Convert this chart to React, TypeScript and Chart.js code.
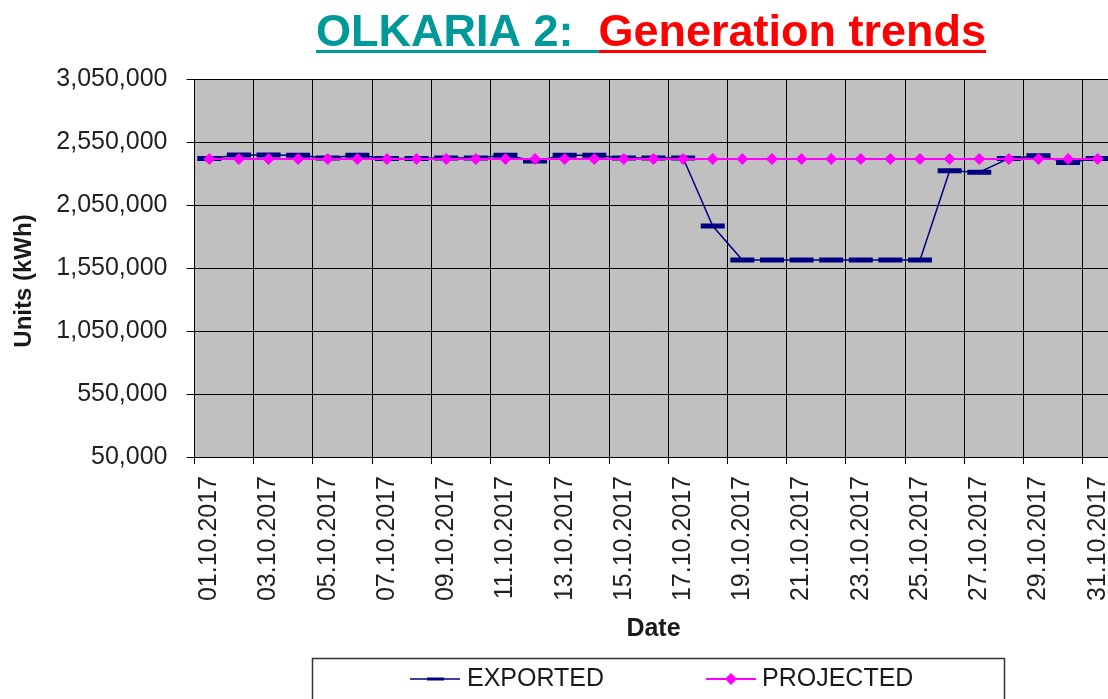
import React, { useEffect, useRef } from 'react';
import { Chart, registerables } from 'chart.js';

Chart.register(...registerables);

const FAMILY = '"Liberation Sans", Arial, Helvetica, sans-serif';

const dates = [
  '01.10.2017', '02.10.2017', '03.10.2017', '04.10.2017', '05.10.2017', '06.10.2017',
  '07.10.2017', '08.10.2017', '09.10.2017', '10.10.2017', '11.10.2017', '12.10.2017',
  '13.10.2017', '14.10.2017', '15.10.2017', '16.10.2017', '17.10.2017', '18.10.2017',
  '19.10.2017', '20.10.2017', '21.10.2017', '22.10.2017', '23.10.2017', '24.10.2017',
  '25.10.2017', '26.10.2017', '27.10.2017', '28.10.2017', '29.10.2017', '30.10.2017',
  '31.10.2017',
];

const exported = [
  2420000, 2447000, 2447000, 2444000, 2423000, 2444000, 2420000, 2420000, 2423000, 2423000,
  2444000, 2400000, 2444000, 2444000, 2423000, 2423000, 2423000, 1883000, 1613000, 1613000,
  1613000, 1613000, 1613000, 1613000, 1613000, 2321000, 2310000, 2420000, 2441000, 2387000,
  2420000,
];

const projected = [
  2415000, 2415000, 2415000, 2415000, 2415000, 2415000, 2415000, 2415000, 2415000, 2415000,
  2415000, 2415000, 2415000, 2415000, 2415000, 2415000, 2415000, 2415000, 2415000, 2415000,
  2415000, 2415000, 2415000, 2415000, 2415000, 2415000, 2415000, 2415000, 2415000, 2415000,
  2415000,
];

const yMin = 50000;
const yMax = 3050000;
const yStep = 500000;

const titleParts = ['OLKARIA 2:  ', 'Generation trends'];
const titleColors = ['#009999', '#FF0000'];
const yTitle = 'Units (kWh)';
const xTitle = 'Date';

const EXPORTED_COLOR = '#000080';
const PROJECTED_COLOR = '#FF00FF';

const decorPlugin = {
  id: 'decor',
  beforeDraw(chart: any) {
    const { ctx, chartArea: a } = chart;
    ctx.save();
    ctx.fillStyle = '#C0C0C0';
    ctx.fillRect(a.left, a.top, a.right - a.left, a.bottom - a.top);
    ctx.restore();
  },
  afterDraw(chart: any) {
    const { ctx, chartArea: a } = chart;
    // Title (two colours, underlined)
    ctx.save();
    ctx.font = `bold 45px ${FAMILY}`;
    ctx.textAlign = 'left';
    ctx.textBaseline = 'alphabetic';
    const w1 = ctx.measureText(titleParts[0]).width;
    const w2 = ctx.measureText(titleParts[1]).width;
    const cx = 651;
    let x = cx - (w1 + w2) / 2;
    const baseY = 46;
    ctx.fillStyle = titleColors[0];
    ctx.fillText(titleParts[0], x, baseY);
    ctx.fillRect(x, baseY + 4, w1, 3);
    x += w1;
    ctx.fillStyle = titleColors[1];
    ctx.fillText(titleParts[1], x, baseY);
    ctx.fillRect(x, baseY + 4, w2, 3);
    ctx.restore();

    // Y axis title
    ctx.save();
    ctx.font = `bold 24px ${FAMILY}`;
    ctx.fillStyle = '#1a1a1a';
    ctx.textAlign = 'center';
    ctx.textBaseline = 'middle';
    ctx.translate(24, (a.top + a.bottom) / 2 + 13);
    ctx.rotate(-Math.PI / 2);
    ctx.fillText(yTitle, 0, 0);
    ctx.restore();

    // Legend box
    const ds = chart.data.datasets;
    ctx.save();
    ctx.strokeStyle = '#333';
    ctx.lineWidth = 1.5;
    ctx.strokeRect(312.5, 658.5, 692, 70);
    const ly = 679;
    ctx.strokeStyle = EXPORTED_COLOR;
    ctx.lineWidth = 1.5;
    ctx.beginPath();
    ctx.moveTo(410, ly);
    ctx.lineTo(460, ly);
    ctx.stroke();
    ctx.lineWidth = 3;
    ctx.beginPath();
    ctx.moveTo(427, ly);
    ctx.lineTo(444, ly);
    ctx.stroke();
    ctx.strokeStyle = PROJECTED_COLOR;
    ctx.lineWidth = 2;
    ctx.beginPath();
    ctx.moveTo(706, ly);
    ctx.lineTo(756, ly);
    ctx.stroke();
    ctx.fillStyle = PROJECTED_COLOR;
    ctx.beginPath();
    ctx.moveTo(731, ly - 6);
    ctx.lineTo(737, ly);
    ctx.lineTo(731, ly + 6);
    ctx.lineTo(725, ly);
    ctx.closePath();
    ctx.fill();
    ctx.font = `25px ${FAMILY}`;
    ctx.fillStyle = '#1a1a1a';
    ctx.textAlign = 'left';
    ctx.textBaseline = 'middle';
    ctx.fillText(ds[0].label, 467, ly);
    ctx.fillText(ds[1].label, 762, ly);
    ctx.restore();
  },
};

export default function App() {
  const canvasRef = useRef<HTMLCanvasElement | null>(null);

  useEffect(() => {
    const canvas = canvasRef.current;
    if (!canvas) return;
    const gridColor = (c: any) => (c.index !== undefined && c.index % 2 === 0 ? '#000' : 'rgba(0,0,0,0)');
    const chart = new Chart(canvas, {
      type: 'line',
      data: {
        labels: dates,
        datasets: [
          {
            label: 'EXPORTED',
            data: exported,
            borderColor: EXPORTED_COLOR,
            backgroundColor: EXPORTED_COLOR,
            borderWidth: 1.5,
            pointStyle: 'line',
            pointRadius: 12,
            pointBorderWidth: 5,
            pointBorderColor: EXPORTED_COLOR,
            pointBackgroundColor: EXPORTED_COLOR,
            tension: 0,
            fill: false,
            order: 1,
          },
          {
            label: 'PROJECTED',
            data: projected,
            borderColor: PROJECTED_COLOR,
            backgroundColor: PROJECTED_COLOR,
            borderWidth: 2,
            pointStyle: 'rectRot',
            pointRadius: 5.5,
            pointBorderWidth: 1,
            pointBorderColor: PROJECTED_COLOR,
            pointBackgroundColor: PROJECTED_COLOR,
            tension: 0,
            fill: false,
            order: 0,
          },
        ],
      },
      options: {
        responsive: false,
        animation: false,
        devicePixelRatio: 1,
        layout: { padding: { top: 79, left: 0, right: 18, bottom: 75 } },
        plugins: {
          legend: { display: false },
          title: { display: false },
          tooltip: { enabled: false },
        },
        scales: {
          x: {
            type: 'category',
            offset: true,
            afterFit: (s: any) => {
              s.height = 188;
            },
            grid: {
              offset: true,
              color: gridColor,
              tickColor: gridColor,
              tickLength: 7,
              lineWidth: 1,
            },
            border: { color: '#000', width: 1 },
            ticks: {
              autoSkip: false,
              maxRotation: 90,
              minRotation: 90,
              padding: 12,
              color: '#222',
              font: { size: 25, family: FAMILY },
              callback: (_v: any, i: number) => (i % 2 === 0 ? dates[i] : ''),
            },
            title: {
              display: true,
              text: xTitle,
              color: '#1a1a1a',
              font: { size: 25, weight: 'bold', family: FAMILY },
              padding: { top: 0, bottom: 1 },
            },
          },
          y: {
            min: yMin,
            max: yMax,
            afterFit: (s: any) => {
              s.width = 194.5;
            },
            grid: { color: '#000', tickColor: '#000', tickLength: 8, lineWidth: 1 },
            border: { color: '#000', width: 1 },
            ticks: {
              stepSize: yStep,
              padding: 19,
              color: '#222',
              font: { size: 25, family: FAMILY },
              callback: (v: any) => Number(v).toLocaleString('en-US'),
            },
          },
        },
      } as any,
      plugins: [decorPlugin],
    });
    return () => chart.destroy();
  }, []);

  return (
    <div
      style={{
        position: 'fixed',
        left: 0,
        top: 0,
        width: 1108,
        height: 699,
        overflow: 'hidden',
        background: '#fff',
      }}
    >
      <canvas
        ref={canvasRef}
        width={1140}
        height={720}
        style={{ width: 1140, height: 720, display: 'block' }}
      />
    </div>
  );
}
